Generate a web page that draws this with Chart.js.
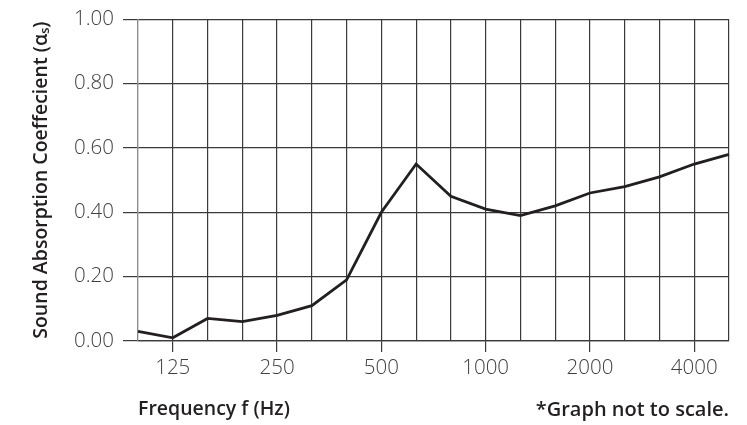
<!DOCTYPE html>
<html lang="en">
<head>
    <meta charset="UTF-8">
    <title>Sound Absorption</title>
    <script src="https://cdn.jsdelivr.net/npm/chart.js@4.4.1/dist/chart.umd.min.js"></script>
    <style>
        html, body { margin: 0; padding: 0; background: #fff; }
        .wrap { width: 747px; height: 425px; }
    </style>
</head>
<body>
    <div class="wrap"><canvas id="chart" width="747" height="425"></canvas></div>

    <script>
        // one-third octave bands (Hz)
        const bands = ['100', '125', '160', '200', '250', '315', '400', '500', '630', '800',
                       '1000', '1250', '1600', '2000', '2500', '3150', '4000', '5000'];
        const absorption = [0.03, 0.01, 0.07, 0.06, 0.08, 0.11, 0.19, 0.40, 0.55, 0.45,
                            0.41, 0.39, 0.42, 0.46, 0.48, 0.51, 0.55, 0.58];
        const shownBands = ['125', '250', '500', '1000', '2000', '4000'];
        const yTicks = [0, 0.2, 0.4, 0.6, 0.8, 1.0];

        const ink = '#231f20';
        const gridInk = '#3a3a3a';
        const fontFamily = '"Open Sans", Lato, sans-serif';

        // draws the footnote on the same line as the x axis title
        const notePlugin = {
            id: 'note',
            afterDraw(chart) {
                const ctx = chart.ctx;
                ctx.save();
                ctx.font = '600 20px ' + fontFamily;
                ctx.fillStyle = ink;
                ctx.textAlign = 'right';
                ctx.textBaseline = 'middle';
                ctx.fillText('*Graph not to scale.', chart.chartArea.right, 410);
                ctx.restore();
            }
        };

        new Chart(document.getElementById('chart'), {
            type: 'line',
            data: {
                labels: bands,
                datasets: [{
                    data: absorption,
                    borderColor: ink,
                    borderWidth: 2.8,
                    pointRadius: 0,
                    tension: 0,
                    fill: false
                }]
            },
            options: {
                responsive: false,
                animation: false,
                layout: { padding: { left: 30, right: 18, top: 3, bottom: 3 } },
                plugins: {
                    legend: { display: false },
                    tooltip: { enabled: false }
                },
                scales: {
                    x: {
                        type: 'category',
                        offset: false,
                        afterFit(scale) { scale.height = 81; },
                        grid: {
                            color: (c) => c.index === 0 ? '#8a8a8a' : gridInk,
                            lineWidth: 1.2,
                            drawTicks: true,
                            tickLength: 11,
                            tickColor: (c) => shownBands.includes(bands[c.index]) ? gridInk : 'rgba(0,0,0,0)'
                        },
                        border: { color: gridInk, width: 1.2 },
                        ticks: {
                            autoSkip: false,
                            maxRotation: 0,
                            padding: 4,
                            color: '#404040',
                            font: { family: fontFamily, size: 20.5, weight: '300' },
                            callback(value, index) {
                                const b = bands[index];
                                return shownBands.includes(b) ? b : '';
                            }
                        },
                        title: {
                            display: true,
                            text: 'Frequency f (Hz)',
                            align: 'start',
                            color: ink,
                            font: { family: fontFamily, size: 19.5, weight: '600' },
                            padding: { top: 0, bottom: 1 }
                        }
                    },
                    y: {
                        min: 0,
                        max: 1,
                        afterFit(scale) { scale.width = 108; },
                        afterBuildTicks(scale) {
                            scale.ticks = yTicks.map(v => ({ value: v }));
                        },
                        grid: {
                            color: gridInk,
                            lineWidth: 1.2,
                            tickLength: 15,
                            tickColor: gridInk
                        },
                        border: { color: '#8a8a8a', width: 1.2 },
                        ticks: {
                            padding: 9,
                            color: '#404040',
                            font: { family: fontFamily, size: 20.5, weight: '300', lineHeight: 1.0 },
                            callback: (v) => Number(v).toFixed(2)
                        },
                        title: {
                            display: true,
                            text: 'Sound Absorption Coeffecient (αₛ)',
                            color: ink,
                            font: { family: fontFamily, size: 19.5, weight: '600' },
                            padding: { top: 0, bottom: 0 }
                        }
                    }
                }
            },
            plugins: [notePlugin]
        });
    </script>
</body>
</html>
